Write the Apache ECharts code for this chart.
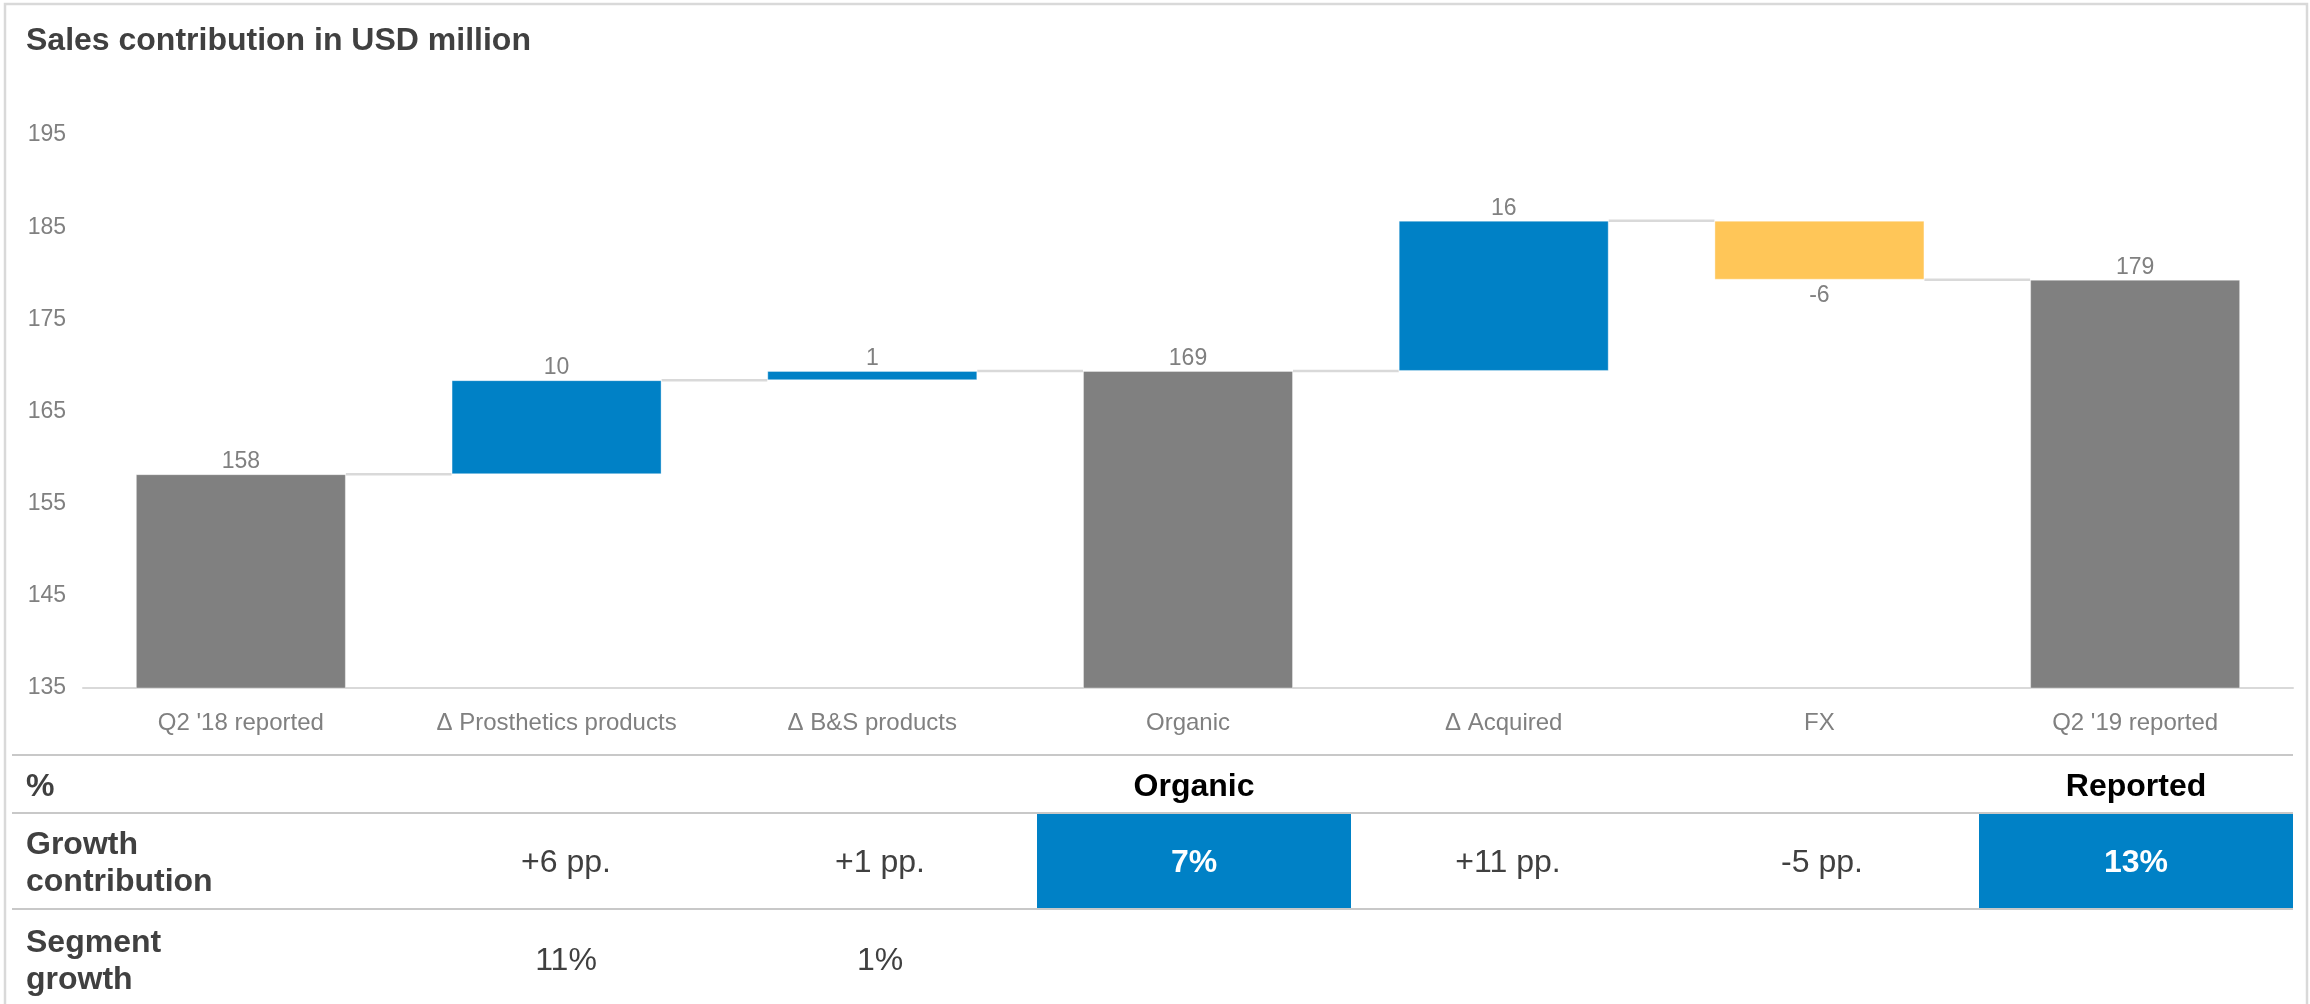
<!DOCTYPE html>
<html>
<head>
<meta charset="utf-8">
<script src="https://cdn.jsdelivr.net/npm/echarts@6/dist/echarts.min.js"></script>
<style>
html,body{margin:0;padding:0;background:#fff;}
#chart{width:2310px;height:1004px;}
</style>
</head>
<body>
<div id="chart"></div>
<script>
// ---- data ----
const titleText = 'Sales contribution in USD million';
const categories = ["Q2 '18 reported", "\u0394 Prosthetics products", "\u0394 B&S products", "Organic", "\u0394 Acquired", "FX", "Q2 '19 reported"];
const barValues = [158.2, 10.2, 1.0, 169.4, 16.3, -6.4, 179.3];
const barTypes = ['total', 'delta', 'delta', 'total', 'delta', 'delta', 'total'];
const barLabels = ['158', '10', '1', '169', '16', '-6', '179'];
const yMin = 135, yMax = 195, yInterval = 10;

const tableHeaderLabel = '%';
const tableHeaders = ['', '', '', 'Organic', '', '', 'Reported'];
const rowLabels = ['Growth\ncontribution', 'Segment\ngrowth'];
const growthContribution = ['', '+6 pp.', '+1 pp.', '7%', '+11 pp.', '-5 pp.', '13%'];
const highlightCells = [false, false, false, true, false, false, true];
const segmentGrowth = ['', '11%', '1%', '', '', '', ''];

// ---- styles ----
const FONT = '"Liberation Sans", Arial, sans-serif';
const GRAY = '#808080', BLUE = '#0081C6', YELLOW = '#FFC658', DARK = '#404040';
const BAR_W = 210;

// ---- waterfall computation ----
const baseData = [], sizeData = [], levels = [];
let running = 0;
barValues.forEach((v, i) => {
  let base, size, color;
  if (barTypes[i] === 'total') {
    base = 0; size = v; running = v; color = GRAY;
  } else if (v >= 0) {
    base = running; size = v; running += v; color = BLUE;
  } else {
    running += v; base = running; size = -v; color = YELLOW;
  }
  const neg = barTypes[i] === 'delta' && v < 0;
  baseData.push(base);
  sizeData.push({
    value: size,
    itemStyle: { color: color },
    label: { position: neg ? 'bottom' : 'top', distance: neg ? 4 : 1 }
  });
  levels.push(running);
});
const connectorData = levels.slice(0, -1).map((l, i) => [i, l]);

// ---- table layout (graphic) ----
const tblRight = 2293, colW = 314;
const colCenter = i => tblRight - (7 - i) * colW + colW / 2;
const lineYs = [755, 813, 909];
const LEFT_TXT = 26;
const graphics = [];
graphics.push({ type: 'rect', shape: { x: 5, y: 4, width: 2302, height: 1010 }, style: { fill: 'none', stroke: '#d9d9d9', lineWidth: 2.5 }, silent: true });
graphics.push({ type: 'text', x: 26, y: 41, style: { text: titleText, font: 'bold 32px ' + FONT, fill: DARK, verticalAlign: 'middle' } });
lineYs.forEach(y => graphics.push({ type: 'line', shape: { x1: 12, y1: y, x2: tblRight, y2: y }, style: { stroke: '#c8c8c8', lineWidth: 2 }, silent: true }));
graphics.push({ type: 'text', x: LEFT_TXT, y: 787, style: { text: tableHeaderLabel, font: 'bold 32px ' + FONT, fill: DARK, verticalAlign: 'middle' } });
tableHeaders.forEach((t, i) => { if (t) graphics.push({ type: 'text', x: colCenter(i), y: 787, style: { text: t, font: 'bold 32px ' + FONT, fill: '#000', align: 'center', verticalAlign: 'middle' } }); });
graphics.push({ type: 'text', x: LEFT_TXT, y: 864, style: { text: rowLabels[0], font: 'bold 32px ' + FONT, fill: DARK, verticalAlign: 'middle', lineHeight: 37 } });
graphics.push({ type: 'text', x: LEFT_TXT, y: 962, style: { text: rowLabels[1], font: 'bold 32px ' + FONT, fill: DARK, verticalAlign: 'middle', lineHeight: 37 } });
growthContribution.forEach((t, i) => {
  if (highlightCells[i]) {
    graphics.push({ type: 'rect', z: -1, shape: { x: colCenter(i) - colW / 2, y: 814, width: colW, height: 94 }, style: { fill: BLUE } });
  }
  if (t) graphics.push({ type: 'text', x: colCenter(i), y: 863, style: { text: t, font: (highlightCells[i] ? 'bold ' : '') + '32px ' + FONT, fill: highlightCells[i] ? '#fff' : DARK, align: 'center', verticalAlign: 'middle' } });
});
segmentGrowth.forEach((t, i) => {
  if (t) graphics.push({ type: 'text', x: colCenter(i), y: 961, style: { text: t, font: '32px ' + FONT, fill: DARK, align: 'center', verticalAlign: 'middle' } });
});

const chart = echarts.init(document.getElementById('chart'), null, { renderer: 'canvas' });
chart.setOption({
  animation: false,
  backgroundColor: '#fff',
  textStyle: { fontFamily: FONT },
  grid: { left: 83, right: 17, top: 135, bottom: 316, containLabel: false },
  xAxis: {
    type: 'category',
    data: categories,
    axisLine: { lineStyle: { color: '#d9d9d9', width: 2 } },
    axisTick: { show: false },
    axisLabel: { color: GRAY, fontSize: 24, margin: 23, interval: 0, fontFamily: FONT }
  },
  yAxis: {
    type: 'value',
    min: yMin, max: yMax, interval: yInterval,
    splitLine: { show: false },
    axisLine: { show: false },
    axisTick: { show: false },
    axisLabel: { color: GRAY, fontSize: 23, margin: 17, fontFamily: FONT, padding: [3, 0, 0, 0] }
  },
  series: [
    {
      type: 'bar', stack: 'w', data: baseData, barWidth: BAR_W, silent: true,
      itemStyle: { color: 'rgba(0,0,0,0)' }
    },
    {
      type: 'bar', stack: 'w', data: sizeData, barWidth: BAR_W,
      itemStyle: { borderColor: 'rgba(255,255,255,0.35)', borderWidth: 1 },
      label: {
        show: true, color: GRAY, fontSize: 23, fontFamily: FONT,
        formatter: p => barLabels[p.dataIndex]
      }
    },
    {
      type: 'custom',
      data: connectorData,
      silent: true,
      z: 1,
      renderItem: (params, api) => {
        const i = api.value(0), lvl = api.value(1);
        const p1 = api.coord([i, lvl]);
        const p2 = api.coord([i + 1, lvl]);
        return {
          type: 'line',
          shape: { x1: p1[0] + BAR_W / 2, y1: p1[1], x2: p2[0] - BAR_W / 2, y2: p2[1] },
          style: { stroke: '#d9d9d9', lineWidth: 2.5 }
        };
      }
    }
  ],
  graphic: graphics
});
</script>
</body>
</html>
